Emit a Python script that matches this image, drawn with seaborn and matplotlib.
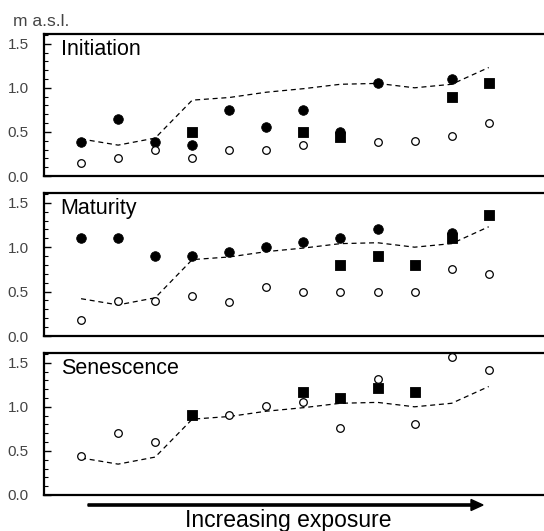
import numpy as np
import pandas as pd
import matplotlib
matplotlib.use("Agg")
import matplotlib.pyplot as plt
from matplotlib.ticker import MultipleLocator, FixedLocator
import seaborn as sns

nan = np.nan

# sites ordered along the exposure gradient
positions = list(range(1, 13))

# dashed reference line (same in every panel)
line_vals = [0.42, 0.35, 0.43, 0.86, 0.89, 0.95, 0.99, 1.04, 1.05, 1.00, 1.04, 1.23]

panel_names = ["Initiation", "Maturity", "Senescence"]

init_filled = [0.38, 0.65, 0.38, 0.35, 0.75, 0.55, 0.75, 0.50, 1.05, nan, 1.10, nan]
init_open = [0.15, 0.20, 0.30, 0.20, 0.30, 0.30, 0.35, nan, 0.38, 0.40, 0.45, 0.60]
init_square = [nan, nan, nan, 0.50, nan, nan, 0.50, 0.44, nan, nan, 0.90, 1.05]

mat_filled = [1.10, 1.10, 0.90, 0.90, 0.95, 1.00, 1.06, 1.10, 1.20, nan, 1.16, nan]
mat_open = [0.18, 0.39, 0.39, 0.45, 0.38, 0.55, 0.50, 0.50, 0.50, 0.50, 0.75, 0.70]
mat_square = [nan, nan, nan, nan, nan, nan, nan, 0.80, 0.90, 0.80, 1.10, 1.36]

sen_filled = [nan] * 12
sen_open = [0.44, 0.70, 0.60, nan, 0.91, 1.01, 1.05, 0.76, 1.31, 0.81, 1.56, 1.42]
sen_square = [nan, nan, nan, 0.91, nan, nan, 1.17, 1.10, 1.21, 1.17, nan, nan]

panels = [
    (init_filled, init_open, init_square),
    (mat_filled, mat_open, mat_square),
    (sen_filled, sen_open, sen_square),
]

sns.set_style("ticks")
plt.rcParams["font.family"] = ["Liberation Sans", "DejaVu Sans"]

W, H = 544, 531
fig = plt.figure(figsize=(W / 100, H / 100), dpi=100)

# axes boxes in pixels: (top, bottom)
boxes = [(34, 176), (193, 336), (353, 495)]
left_px, right_px = 44, 548

for (top, bot), name, (filled, opn, square) in zip(boxes, panel_names, panels):
    ax = fig.add_axes([left_px / W, (H - bot) / H, (right_px - left_px) / W, (bot - top) / H])
    df = pd.DataFrame({"x": positions, "line": line_vals, "filled": filled,
                       "open": opn, "square": square})

    sns.lineplot(data=df, x="x", y="line", ax=ax, color="black", lw=0.9,
                 linestyle=(0, (4, 3)), zorder=1)
    sns.scatterplot(data=df, x="x", y="square", ax=ax, marker="s", s=58,
                    color="black", edgecolor="black", zorder=2)
    sns.scatterplot(data=df, x="x", y="filled", ax=ax, marker="o", s=48,
                    color="black", edgecolor="black", zorder=3)
    sns.scatterplot(data=df, x="x", y="open", ax=ax, marker="o", s=30,
                    facecolor="white", edgecolor="black", linewidth=0.9,
                    zorder=4, clip_on=False)

    ax.set_xlim(0, 13.6)
    ax.set_ylim(0, 1.61)
    ax.set_xticks([])
    ax.set_yticks([0, 0.5, 1.0, 1.5])
    ax.set_yticklabels(["0.0", "0.5", "1.0", "1.5"])
    ax.yaxis.set_minor_locator(MultipleLocator(0.1))
    ax.tick_params(axis="y", which="major", direction="in", length=5, width=1,
                   color="black", pad=11, labelsize=11, labelcolor="#444444",
                   left=True, right=False)
    ax.tick_params(axis="y", which="minor", direction="in", length=3, width=0.8,
                   color="black", left=True, right=False)
    ax.set_xlabel("")
    ax.set_ylabel("")
    for side in ["left", "top", "bottom"]:
        ax.spines[side].set_visible(True)
        ax.spines[side].set_linewidth(1.6)
        ax.spines[side].set_color("black")
    ax.spines["right"].set_visible(False)
    ax.text(0.033, 0.89, name, transform=ax.transAxes, fontsize=15.5,
            ha="left", va="center", color="black")

fig.text(13 / W, (H - 21) / H, "m a.s.l.", fontsize=12.5, color="#444444",
         ha="left", va="center")

fig.patches.append(matplotlib.patches.FancyArrow(
    88 / W, (H - 505) / H, 383 / W, 0, width=2.2 / H, head_width=11 / H,
    head_length=12 / W, length_includes_head=False, color="black",
    transform=fig.transFigure, figure=fig))

fig.text(288 / W, (H - 527) / H, "Increasing exposure", fontsize=16.5,
         ha="center", va="baseline", color="black")

fig.savefig("out.png", dpi=100)
